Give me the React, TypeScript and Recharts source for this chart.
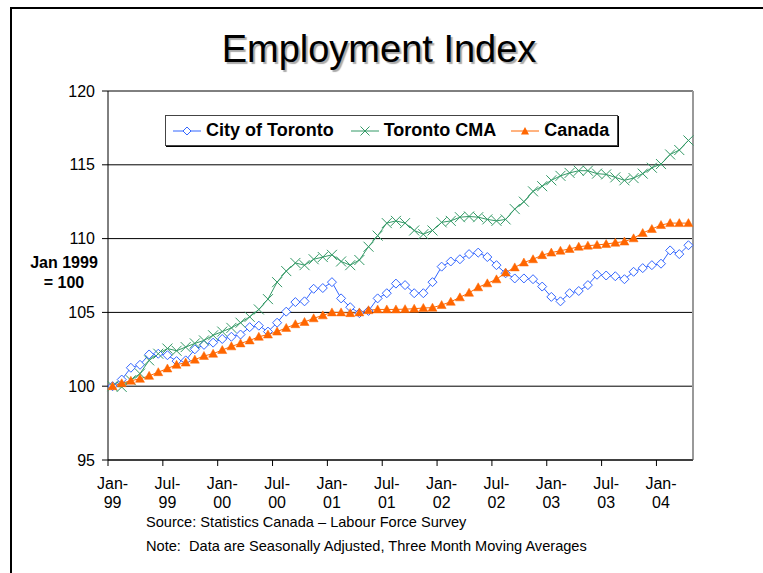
import { LineChart, Line, XAxis, YAxis, CartesianGrid, Legend, ReferenceLine } from "recharts";

const months = [
  "Jan-99", "Feb-99", "Mar-99", "Apr-99", "May-99", "Jun-99", "Jul-99", "Aug-99", "Sep-99", "Oct-99", "Nov-99", "Dec-99",
  "Jan-00", "Feb-00", "Mar-00", "Apr-00", "May-00", "Jun-00", "Jul-00", "Aug-00", "Sep-00", "Oct-00", "Nov-00", "Dec-00",
  "Jan-01", "Feb-01", "Mar-01", "Apr-01", "May-01", "Jun-01", "Jul-01", "Aug-01", "Sep-01", "Oct-01", "Nov-01", "Dec-01",
  "Jan-02", "Feb-02", "Mar-02", "Apr-02", "May-02", "Jun-02", "Jul-02", "Aug-02", "Sep-02", "Oct-02", "Nov-02", "Dec-02",
  "Jan-03", "Feb-03", "Mar-03", "Apr-03", "May-03", "Jun-03", "Jul-03", "Aug-03", "Sep-03", "Oct-03", "Nov-03", "Dec-03",
  "Jan-04", "Feb-04", "Mar-04", "Apr-04",
];

const cityOfToronto = [
  100.0, 100.45, 101.25, 101.45, 102.15, 102.2, 102.1, 101.7, 101.75, 102.5, 102.8, 102.95,
  103.2, 103.35, 103.5, 104.0, 104.1, 103.7, 104.3, 105.05, 105.7, 105.75, 106.6, 106.65,
  107.05, 105.95, 105.35, 104.95, 105.1, 105.95, 106.3, 106.95, 106.85, 106.3, 106.3, 107.05,
  108.1, 108.45, 108.6, 108.95, 109.05, 108.75, 108.2, 107.65, 107.3, 107.3, 107.25, 106.75,
  106.05, 105.75, 106.3, 106.45, 106.85, 107.55, 107.5, 107.45, 107.25, 107.75, 108.0, 108.2,
  108.3, 109.2, 108.95, 109.55,
];

const torontoCma = [
  100.0, 99.95, 100.4, 100.85, 101.75, 102.2, 102.55, 102.4, 102.65, 102.9, 103.1, 103.45,
  103.7, 103.95, 104.3, 104.7, 105.2, 105.9, 107.05, 107.8, 108.35, 108.2, 108.6, 108.75,
  108.9, 108.45, 108.2, 108.55, 109.45, 110.2, 111.05, 111.2, 111.05, 110.55, 110.3, 110.55,
  111.1, 111.2, 111.45, 111.5, 111.45, 111.3, 111.2, 111.3, 112.0, 112.5, 113.2, 113.55,
  113.95, 114.25, 114.45, 114.6, 114.6, 114.4, 114.35, 114.15, 113.95, 114.1, 114.4, 114.8,
  115.05, 115.7, 116.0, 116.65,
];

const canada = [
  100.0, 100.2, 100.37, 100.5, 100.7, 100.95, 101.2, 101.45, 101.6, 101.8, 102.05, 102.2,
  102.45, 102.7, 102.9, 103.1, 103.35, 103.5, 103.7, 103.95, 104.2, 104.35, 104.6, 104.8,
  105.0, 105.0, 104.95, 105.0, 105.15, 105.2, 105.2, 105.2, 105.22, 105.25, 105.3, 105.32,
  105.5, 105.72, 106.02, 106.33, 106.7, 106.97, 107.24, 107.7, 108.05, 108.38, 108.6, 108.88,
  109.05, 109.18, 109.3, 109.45, 109.52, 109.57, 109.63, 109.72, 109.8, 110.02, 110.38, 110.65,
  110.92, 111.05, 111.05, 111.05,
];

const yTicks = [95, 100, 105, 110, 115, 120];

const data = months.map((month, i) => ({
  month,
  city: cityOfToronto[i],
  cma: torontoCma[i],
  canada: canada[i],
}));

const FONT = "'Liberation Sans', Arial, sans-serif";
const BLUE = "#3366ff";
const GREEN = "#339966";
const ORANGE = "#ff6600";
const PLOT_W = 585;

const diamondDot = (p: any) => (
  <path
    key={`c-${p.index}`}
    d={`M${p.cx},${p.cy - 4.5}L${p.cx + 4.5},${p.cy}L${p.cx},${p.cy + 4.5}L${p.cx - 4.5},${p.cy}Z`}
    fill="#fff"
    stroke={BLUE}
    strokeWidth={1}
  />
);

const crossDot = (p: any) => (
  <path
    key={`m-${p.index}`}
    d={`M${p.cx - 5},${p.cy - 5}L${p.cx + 5},${p.cy + 5}M${p.cx + 5},${p.cy - 5}L${p.cx - 5},${p.cy + 5}`}
    stroke={GREEN}
    strokeWidth={1}
    fill="none"
  />
);

const triangleDot = (p: any) => (
  <path
    key={`k-${p.index}`}
    d={`M${p.cx},${p.cy - 4.5}L${p.cx + 4.5},${p.cy + 3.5}L${p.cx - 4.5},${p.cy + 3.5}Z`}
    fill={ORANGE}
    stroke={ORANGE}
    strokeWidth={0.5}
  />
);

const MonthTick = (props: any) => {
  const { x, y, payload } = props;
  const i = payload.index;
  if (i % 6 !== 0) return <g />;
  const [mon, yr] = String(payload.value).split("-");
  const half = PLOT_W / months.length / 2;
  return (
    <g>
      <line x1={x - half} x2={x - half} y1={y} y2={y + 6} stroke="#000" />
      <text x={x} y={y} textAnchor="middle" fontSize={16} fill="#000">
        <tspan x={x} dy={29}>{mon}-</tspan>
        <tspan x={x} dy={19}>{yr}</tspan>
      </text>
    </g>
  );
};

const legendItems = [
  { name: "City of Toronto", color: BLUE, kind: "diamond", gapAfter: 17 },
  { name: "Toronto CMA", color: GREEN, kind: "cross", gapAfter: 15 },
  { name: "Canada", color: ORANGE, kind: "triangle", gapAfter: 0 },
];

const LegendIcon = ({ kind, color }: { kind: string; color: string }) => (
  <svg width={28} height={12} style={{ display: "block" }}>
    <line x1={0} x2={28} y1={6} y2={6} stroke={color} strokeWidth={1} />
    {kind === "diamond" && <path d="M14,2L18,6L14,10L10,6Z" fill="#fff" stroke={color} />}
    {kind === "cross" && <path d="M9.5,1.5L18.5,10.5M18.5,1.5L9.5,10.5" stroke={color} />}
    {kind === "triangle" && <path d="M14,2L18,9.5L10,9.5Z" fill={color} />}
  </svg>
);

const LegendBox = () => (
  <div
    style={{
      display: "flex",
      alignItems: "center",
      height: 29,
      padding: "0 8px 0 7px",
      border: "1px solid #444",
      boxShadow: "1px 1px 0 #000",
      background: "#fff",
      fontFamily: FONT,
      fontWeight: "bold",
      fontSize: 18,
      color: "#000",
      whiteSpace: "nowrap",
    }}
  >
    {legendItems.map((it) => (
      <div key={it.name} style={{ display: "flex", alignItems: "center", marginRight: it.gapAfter }}>
        <LegendIcon kind={it.kind} color={it.color} />
        <span style={{ marginLeft: 5 }}>{it.name}</span>
      </div>
    ))}
  </div>
);

export default function App() {
  return (
    <div style={{ position: "absolute", left: 0, top: 0, width: 763, height: 573, background: "#fff", fontFamily: FONT }}>
      <div
        style={{
          position: "absolute",
          left: 10,
          top: 7,
          width: 760,
          height: 570,
          borderTop: "2px solid #000",
          borderLeft: "2px solid #000",
        }}
      />
      <div
        style={{
          position: "absolute",
          left: 0,
          top: 31,
          width: 758,
          textAlign: "center",
          fontSize: 38,
          lineHeight: "37px",
          color: "#000",
          textShadow: "2px 2px 1px #aaa",
        }}
      >
        Employment Index
      </div>
      <div
        style={{
          position: "absolute",
          left: 24,
          top: 253,
          width: 80,
          textAlign: "center",
          fontWeight: "bold",
          fontSize: 16,
          lineHeight: "20px",
        }}
      >
        Jan 1999
        <br />= 100
      </div>
      <div style={{ position: "absolute", left: 0, top: 0 }}>
        <LineChart width={763} height={573} data={data} margin={{ top: 91, right: 70, left: 48, bottom: 53 }}>
          <CartesianGrid vertical={false} stroke="#000" />
          <XAxis
            dataKey="month"
            scale="band"
            interval={0}
            tick={<MonthTick />}
            tickLine={false}
            tickSize={0}
            tickMargin={0}
            axisLine={{ stroke: "#000" }}
            height={60}
          />
          <YAxis
            domain={[95, 120]}
            ticks={yTicks}
            width={60}
            tick={{ fill: "#000", fontSize: 16 }}
            tickLine={{ stroke: "#000" }}
            tickSize={6}
            tickMargin={7}
            axisLine={{ stroke: "#000" }}
          />
          <ReferenceLine x={months[months.length - 1]} position="end" stroke="#999" strokeWidth={2} />
          <Legend
            layout="horizontal"
            verticalAlign="middle"
            align="center"
            content={<LegendBox />}
            wrapperStyle={{ left: 165, top: 115, width: "auto" }}
          />
          <Line
            type="linear"
            dataKey="city"
            name="City of Toronto"
            stroke={BLUE}
            strokeWidth={1}
            dot={diamondDot}
            activeDot={false}
            isAnimationActive={false}
          />
          <Line
            type="linear"
            dataKey="cma"
            name="Toronto CMA"
            stroke={GREEN}
            strokeWidth={1}
            dot={crossDot}
            activeDot={false}
            isAnimationActive={false}
          />
          <Line
            type="linear"
            dataKey="canada"
            name="Canada"
            stroke={ORANGE}
            strokeWidth={1}
            dot={triangleDot}
            activeDot={false}
            isAnimationActive={false}
          />
        </LineChart>
      </div>
      <div style={{ position: "absolute", left: 146, top: 513, fontSize: 14.6, lineHeight: "18px" }}>
        Source: Statistics Canada – Labour Force Survey
      </div>
      <div style={{ position: "absolute", left: 146, top: 537, fontSize: 14.6, lineHeight: "18px", whiteSpace: "pre" }}>
        Note:  Data are Seasonally Adjusted, Three Month Moving Averages
      </div>
    </div>
  );
}
